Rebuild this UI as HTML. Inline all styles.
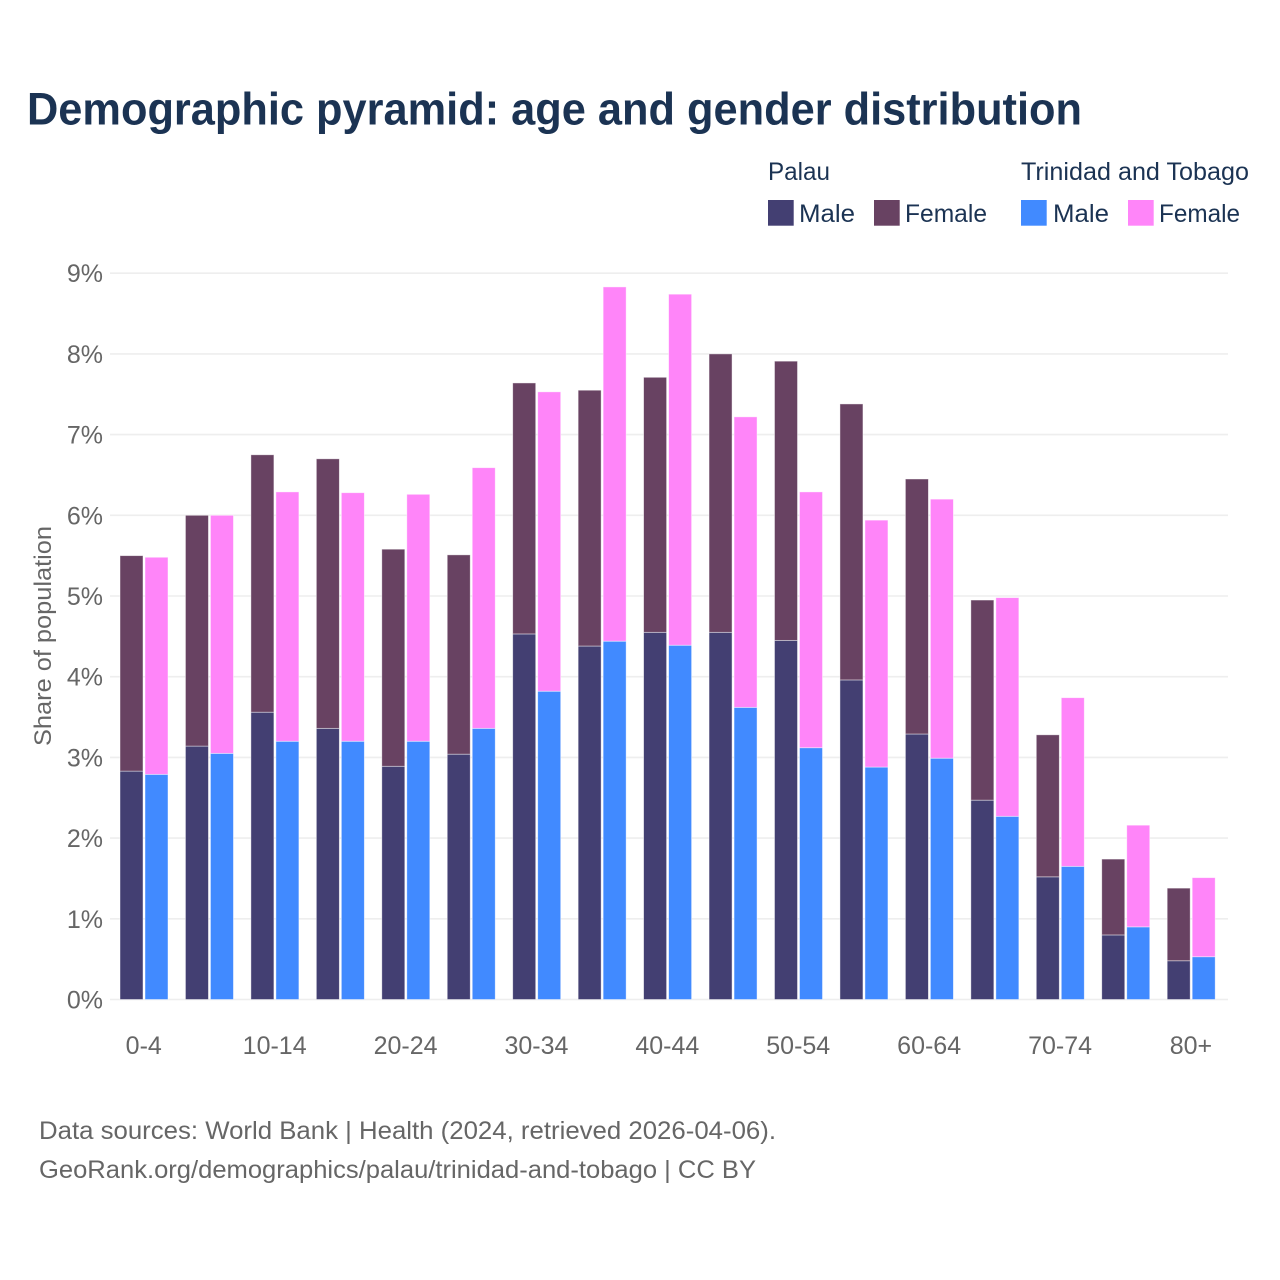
<!DOCTYPE html>
<html lang="en">
<head>
<meta charset="utf-8">
<title>Demographic pyramid</title>
<style>
html,body{margin:0;padding:0;background:#fff;}
svg{display:block;}
text{font-family:"Liberation Sans",sans-serif;}
</style>
</head>
<body>
<svg id="chart" xmlns="http://www.w3.org/2000/svg" width="1280" height="1280" viewBox="0 0 1280 1280">
  <rect x="0" y="0" width="1280" height="1280" fill="#ffffff"/>
  <text x="27" y="124.5" font-size="45" font-weight="700" fill="#1b3353" textLength="1055" lengthAdjust="spacingAndGlyphs">Demographic pyramid: age and gender distribution</text>

  <g font-size="25" fill="#1b3353">
    <text x="768" y="180" textLength="62" lengthAdjust="spacingAndGlyphs">Palau</text>
    <text x="1021" y="180" textLength="228" lengthAdjust="spacingAndGlyphs">Trinidad and Tobago</text>
    <rect x="768" y="200" width="25.7" height="25.7" fill="#433f72"/>
    <text x="799" y="222" textLength="56" lengthAdjust="spacingAndGlyphs">Male</text>
    <rect x="874" y="200" width="25.7" height="25.7" fill="#684262"/>
    <text x="905" y="222" textLength="82" lengthAdjust="spacingAndGlyphs">Female</text>
    <rect x="1021" y="200" width="25.7" height="25.7" fill="#418aff"/>
    <text x="1053" y="222" textLength="56" lengthAdjust="spacingAndGlyphs">Male</text>
    <rect x="1128" y="200" width="25.7" height="25.7" fill="#ff85f9"/>
    <text x="1159" y="222" textLength="81" lengthAdjust="spacingAndGlyphs">Female</text>
  </g>

  <g id="grid"></g>
  <g id="bars"></g>
  <g id="yticks"></g>
  <g id="xticks"></g>

  <text transform="translate(51,636) rotate(-90)" text-anchor="middle" font-size="24.5" fill="#666666" textLength="220" lengthAdjust="spacingAndGlyphs">Share of population</text>

  <g font-size="25" fill="#666666">
    <text x="39" y="1139" textLength="737" lengthAdjust="spacingAndGlyphs">Data sources: World Bank | Health (2024, retrieved 2026-04-06).</text>
    <text x="39" y="1178" textLength="717" lengthAdjust="spacingAndGlyphs">GeoRank.org/demographics/palau/trinidad-and-tobago | CC BY</text>
  </g>
</svg>
<script>
const categories = ["0-4","5-9","10-14","15-19","20-24","25-29","30-34","35-39","40-44","45-49","50-54","55-59","60-64","65-69","70-74","75-79","80+"];
const palauMale = [2.83,3.14,3.56,3.36,2.89,3.04,4.53,4.38,4.55,4.55,4.45,3.96,3.29,2.47,1.52,0.80,0.48];
const palauFemale = [2.67,2.86,3.19,3.34,2.69,2.47,3.11,3.17,3.16,3.45,3.46,3.42,3.16,2.48,1.76,0.94,0.90];
const ttMale = [2.79,3.05,3.20,3.20,3.20,3.36,3.82,4.44,4.39,3.62,3.12,2.88,2.99,2.27,1.65,0.90,0.53];
const ttFemale = [2.69,2.95,3.09,3.08,3.06,3.23,3.71,4.39,4.35,3.60,3.17,3.06,3.21,2.71,2.09,1.26,0.98];
const yTicks = [0,1,2,3,4,5,6,7,8,9];

const SVG_NS = "http://www.w3.org/2000/svg";
function yScale(v){ return 999.5 - v * 80.7; }
function xScale(i){ return 143.75 + i * 65.45; }
function make(tag, attrs, parent){
  const el = document.createElementNS(SVG_NS, tag);
  for (const k in attrs) el.setAttribute(k, attrs[k]);
  parent.appendChild(el);
  return el;
}

const grid = document.getElementById("grid");
const yt = document.getElementById("yticks");
yTicks.forEach(function(t){
  const line = make("line", {x1:110, x2:1228, y1:yScale(t), y2:yScale(t), stroke:"#eeeeee", "stroke-width":1.6}, grid);
  
  
  const label = make("text", {x:103, y:yScale(t)+9, "text-anchor":"end", "font-size":25, fill:"#666666"}, yt);
  
  
  label.textContent = t + "%";
});

const xt = document.getElementById("xticks");
categories.forEach(function(c, i){
  if (i % 2 === 0) {
    const label = make("text", {x:xScale(i), y:1054, "text-anchor":"middle", "font-size":25, fill:"#666666"}, xt);
    
    
    label.textContent = c;
  }
});

const bars = document.getElementById("bars");
const BAR_W = 23;
function drawSegment(x, v0, v1, fill){
  const top = yScale(v0 + v1);
  const bottom = yScale(v0);
  const r = make("rect", {x:x, y:top, width:BAR_W, height:bottom-top, fill:fill, stroke:"#ffffff", "stroke-opacity":0.55, "stroke-width":0.8}, bars);
  return r;
}
categories.forEach(function(c, i){
  const cx = xScale(i);
  const a = drawSegment(cx - 23.75, 0, palauMale[i], "#433f72");
  
  
  const b = drawSegment(cx - 23.75, palauMale[i], palauFemale[i], "#684262");
  
  
  const d = drawSegment(cx + 1.25, 0, ttMale[i], "#418aff");
  
  
  const e = drawSegment(cx + 1.25, ttMale[i], ttFemale[i], "#ff85f9");
  
  
});
</script>
</body>
</html>
